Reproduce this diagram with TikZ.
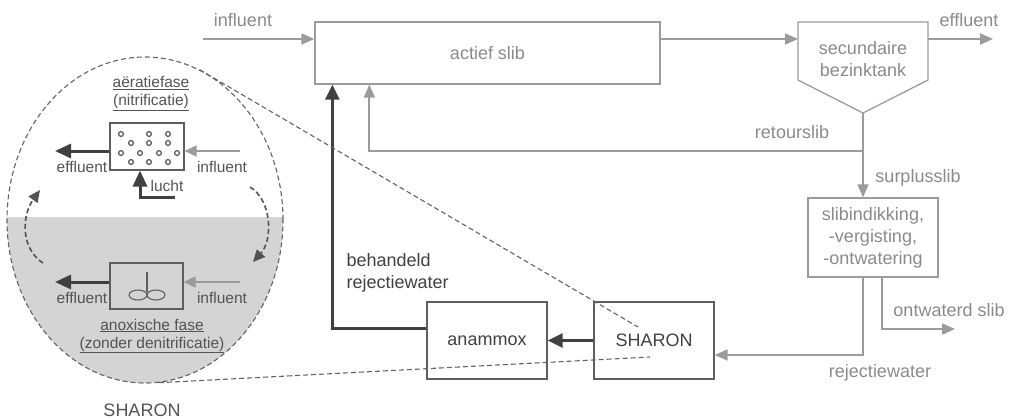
\documentclass[tikz,border=0pt]{standalone}
\usepackage{fontspec}
\setmainfont{Liberation Sans}
\usetikzlibrary{arrows.meta,shapes.geometric}
\definecolor{lijngrijs}{HTML}{9B9B9B}
\definecolor{tekstgrijs}{HTML}{8A8A8A}
\definecolor{donker}{HTML}{404040}
\definecolor{kader}{HTML}{5E5E5E}
\definecolor{vlak}{HTML}{D4D4D4}
\definecolor{stippel}{HTML}{626262}

\begin{document}
\begin{tikzpicture}[x=1pt,y=-1pt,
  groot/.style={font=\fontsize{18}{22}\selectfont},
  klein/.style={font=\fontsize{15.5}{18}\selectfont},
  grijsbox/.style={draw=lijngrijs,line width=1.3pt,text=tekstgrijs,groot,inner sep=0pt,align=center},
  donkerbox/.style={draw=kader,line width=1.3pt,text=donker,groot,inner sep=0pt},
  binnenbox/.style={draw=kader,line width=1.1pt,inner sep=0pt,minimum width=74pt,minimum height=47pt},
  stroom/.style={draw=lijngrijs,line width=1.8pt,-{Triangle[length=13pt,width=11pt]}},
  terug/.style={draw=donker,line width=2.8pt,-{Triangle[length=15pt,width=14pt]}},
  binnengrijs/.style={draw=lijngrijs,line width=1.6pt,-{Triangle[length=12pt,width=11pt]}},
  binnendonker/.style={draw=donker,line width=3pt,-{Triangle[length=16pt,width=14pt]}},
  streep/.style={draw=stippel,line width=1.1pt,dash pattern=on 5pt off 3pt},
  boog/.style={draw=donker!90,line width=1.6pt,dash pattern=on 5pt off 3pt,-{Triangle[length=12pt,width=11pt]}},
  grijslabel/.style={groot,text=tekstgrijs},
  donkerlabel/.style={groot,text=donker},
  fase/.style={klein,text=donker!90,align=center}]
\useasboundingbox (0,0) rectangle (1016,418);

% waterlijn
\node[grijsbox,minimum width=345pt,minimum height=62pt] (slib) at (487.5,53) {actief slib};
\node[grijslabel,align=center] (tank) at (863,59) {secundaire\\bezinktank};
\coordinate (tanktip) at (863,113);
\draw[lijngrijs,line width=1.3pt] (798,22) -- (928,22) -- (928,80) -- (tanktip) -- (798,80) -- cycle;
\coordinate (infin) at (203,39);
\coordinate (tankin) at (798,39);
\coordinate (tankuit) at (928,39);
\coordinate (effuit) at (993,39);
\coordinate (split) at (863,151);
\node[grijsbox,minimum width=130pt,minimum height=79pt] (dik) at (873,237.5) {slibindikking,\\-vergisting,\\-ontwatering};
\coordinate (slibuit) at (955,329);
\node[donkerbox,minimum width=120pt,minimum height=77pt] (sharon) at (654,340.5) {SHARON};
\node[donkerbox,minimum width=120pt,minimum height=77pt] (anammox) at (487,340.5) {anammox};

\draw[stroom] (infin) -- (infin -| slib.west);
\draw[stroom] (slib.east |- tankin) -- (tankin);
\draw[stroom] (tankuit) -- (effuit);
\draw[stroom] (tanktip) -- (split) -| ([xshift=55pt]slib.south west);
\draw[stroom] (split) -- (split |- dik.north);
\draw[stroom] (split |- dik.south) |- ([yshift=-14.5pt]sharon.east);
\draw[stroom] ([xshift=9pt]dik.south) |- (slibuit);
\draw[terug] (sharon.west) -- (anammox.east);
\draw[terug] ([yshift=12pt]anammox.west) -| ([xshift=18pt]slib.south west);

\node[grijslabel] (l1) at (243,20) {influent};
\node[grijslabel] (l2) at (969,20) {effluent};
\node[grijslabel] (l3) at (792,132) {retourslib};
\node[grijslabel] (l4) at (918,178) {surplusslib};
\node[grijslabel] (l5) at (949,310) {ontwaterd slib};
\node[grijslabel] (l6) at (880,373) {rejectiewater};
\node[donkerlabel,anchor=west,align=left] (l7) at (343,273) {behandeld\\rejectiewater};

% uitvergroting SHARON
\coordinate (zc) at (145,220);
\begin{scope}
\clip (zc) ellipse (138 and 163);
\fill[vlak] (0,217) rectangle (300,400);
\end{scope}
\node[ellipse,streep,inner sep=0pt,minimum width=276pt,minimum height=326pt] (zoom) at (zc) {};
\node[donkerlabel,text=donker!90] (zlabel) at (142,410) {SHARON};
\coordinate (zin1) at (638,327);
\coordinate (zin2) at (650,357);
\draw[streep] (zoom.70) -- (zin1);
\draw[streep] (zoom.-85) -- (zin2);

\node[binnenbox] (aer) at (147,146.5) {};
\foreach \x/\y in {121/134,149/134,168/134,131/143,149/143,168/143,121/153,140/153,159/153,177/153,131/162,149/162,168/162}
  \draw[kader,line width=1.3pt] (\x,\y) circle (2.4);
\coordinate (aeruit) at (55,151);
\coordinate (aerin) at (240,151);
\coordinate (lucht) at (175,197);
\draw[binnendonker] (aeruit -| aer.west) -- (aeruit);
\draw[binnengrijs] (aerin) -- (aerin -| aer.east);
\draw[binnendonker] (lucht) -| ([xshift=-7pt]aer.south);
\node[fase] (f1) at (151,93.5) {\underline{aëratiefase}\\\underline{(nitrificatie)}};
\node[klein,text=donker!90] (e1) at (82,167) {effluent};
\node[klein,text=donker!90] (i1) at (222,167) {influent};
\node[klein,text=donker!90] (lu) at (167,186) {lucht};

\node[binnenbox,minimum width=73pt,minimum height=46pt] (anox) at (146.5,286) {};
\draw[kader,line width=1.1pt] (147,272) -- (147,292);
\draw[kader,line width=1.1pt] (138,295) ellipse (9 and 5);
\draw[kader,line width=1.1pt] (156,295) ellipse (9 and 5);
\coordinate (anoxuit) at (55,282);
\coordinate (anoxin) at (240,282);
\draw[binnendonker] (anoxuit -| anox.west) -- (anoxuit);
\draw[binnengrijs] (anoxin) -- (anoxin -| anox.east);
\node[klein,text=donker!90] (e2) at (82,298) {effluent};
\node[klein,text=donker!90] (i2) at (222,298) {influent};
\node[fase] (f2) at (152,336) {\underline{anoxische fase}\\\underline{(zonder denitrificatie)}};

\coordinate (b1a) at (43,263);
\coordinate (b1b) at (40,190);
\coordinate (b2a) at (250,187);
\coordinate (b2b) at (253,262);
\draw[boog] (b1a) .. controls (20,248) and (22,215) .. (b1b);
\draw[boog] (b2a) .. controls (272,200) and (273,240) .. (b2b);
\end{tikzpicture}
\end{document}
